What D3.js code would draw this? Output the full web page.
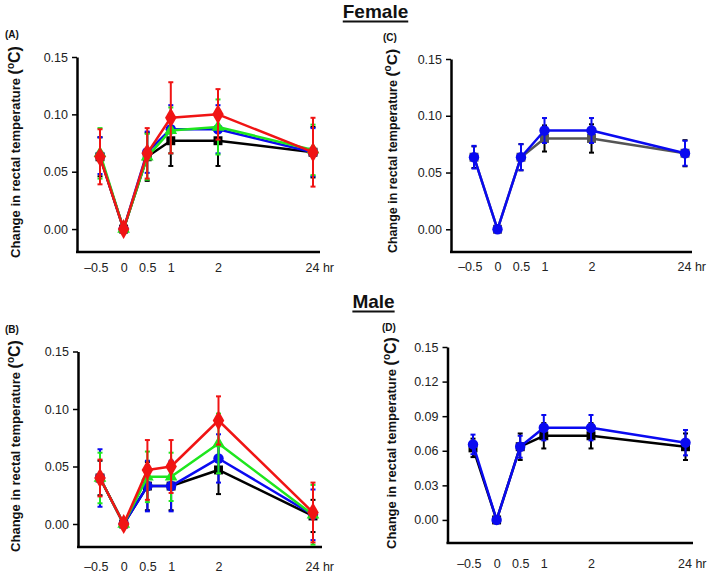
<!DOCTYPE html>
<html><head><meta charset="utf-8">
<script src="https://cdn.jsdelivr.net/npm/d3@7"></script>
<style>
html,body{margin:0;padding:0;background:#fff;}
svg{display:block;font-family:"Liberation Sans",Arial,sans-serif;}
</style></head>
<body><svg id="chart" width="709" height="574"></svg>
<script>
// ---------- data ----------
const times = [-0.5, 0, 0.5, 1, 2, 24];
const xTickLabels = ["\u20130.5", "0", "0.5", "1", "2", "24 hr"];
const yTicksMain = [0, 0.05, 0.10, 0.15];
const yTicksD = [0, 0.03, 0.06, 0.09, 0.12, 0.15];
const sectionTitles = ["Female", "Male"];
const panelTags = ["(A)", "(B)", "(C)", "(D)"];

// Panel A (female)
const aBlack = [0.063, 0, 0.063, 0.077, 0.077, 0.067];
const aBlackErr = [0.017, 0, 0.021, 0.022, 0.022, 0.022];
const aBlue = [0.064, 0, 0.067, 0.087, 0.087, 0.067];
const aBlueErr = [0.016, 0, 0.018, 0.021, 0.021, 0.021];
const aGreen = [0.066, 0, 0.063, 0.086, 0.089, 0.069];
const aGreenErr = [0.022, 0, 0.020, 0.020, 0.024, 0.022];
const aRed = [0.063, 0, 0.066, 0.097, 0.100, 0.067];
const aRedErr = [0.024, 0, 0.022, 0.031, 0.022, 0.030];

// Panel B (male)
const bBlack = [0.040, 0, 0.033, 0.033, 0.047, 0.007];
const bBlackErr = [0.015, 0, 0.021, 0.021, 0.021, 0.014];
const bBlue = [0.040, 0, 0.033, 0.033, 0.057, 0.008];
const bBlueErr = [0.025, 0, 0.022, 0.022, 0.021, 0.022];
const bGreen = [0.040, 0, 0.041, 0.041, 0.070, 0.008];
const bGreenErr = [0.022, 0, 0.022, 0.021, 0.026, 0.026];
const bRed = [0.040, 0, 0.047, 0.050, 0.090, 0.010];
const bRedErr = [0.016, 0, 0.026, 0.023, 0.021, 0.026];

// Panel C (female)
const cGray = [0.0635, 0, 0.0635, 0.080, 0.080, 0.067];
const cGrayErr = [0.0095, 0, 0.0115, 0.0115, 0.0125, 0.0115];
const cBlue = [0.0635, 0, 0.0635, 0.087, 0.087, 0.067];
const cBlueErr = [0.010, 0, 0.0115, 0.011, 0.011, 0.011];

// Panel D (male)
const dBlack = [0.0625, 0, 0.0635, 0.073, 0.073, 0.0635];
const dBlackErr = [0.008, 0, 0.0115, 0.011, 0.011, 0.0115];
const dBlue = [0.0655, 0, 0.0635, 0.080, 0.080, 0.067];
const dBlueErr = [0.0085, 0, 0.0095, 0.011, 0.011, 0.011];

// ---------- styles ----------
const C = {black:"#000000", blue:"#0a0af0", green:"#1ee61e", red:"#f01414", gray:"#555555"};
const sym = {
  square: {type: d3.symbolSquare, size: 80},
  circle: {type: d3.symbolCircle, size: 85},
  tri: {type: d3.symbolTriangle, size: 70},
  diamond: {type: d3.symbolDiamond, size: 115}
};

const panels = [
  {tag: panelTags[0], left: 77, top: 57, bottom: 252, right: 320, xpx: [100, 218, 313], labelBase: 272,
   titleX: 20, titleY: 152, titleSize: 13, tagPos: [5, 38], yTicks: yTicksMain,
   series: [
     {v: aBlack, e: aBlackErr, color: C.black, ecolor: C.black, s: sym.square},
     {v: aBlue, e: aBlueErr, color: C.blue, ecolor: C.blue, s: sym.circle},
     {v: aGreen, e: aGreenErr, color: C.green, ecolor: C.green, s: sym.tri},
     {v: aRed, e: aRedErr, color: C.red, ecolor: C.red, s: sym.diamond}]},
  {tag: panelTags[1], left: 78, top: 351.5, bottom: 547, right: 322, xpx: [100, 218.5, 313], labelBase: 571,
   titleX: 20, titleY: 446, titleSize: 13, tagPos: [5, 333], yTicks: yTicksMain,
   series: [
     {v: bBlack, e: bBlackErr, color: C.black, ecolor: C.black, s: sym.square},
     {v: bBlue, e: bBlueErr, color: C.blue, ecolor: C.blue, s: sym.circle},
     {v: bGreen, e: bGreenErr, color: C.green, ecolor: C.green, s: sym.tri},
     {v: bRed, e: bRedErr, color: C.red, ecolor: C.red, s: sym.diamond}]},
  {tag: panelTags[2], left: 451, top: 59, bottom: 252, right: 692, xpx: [474, 591.5, 685], labelBase: 271,
   titleX: 397, titleY: 151, titleSize: 12.5, tagPos: [383, 41], yTicks: yTicksMain,
   series: [
     {v: cGray, e: cGrayErr, color: C.gray, ecolor: C.black, s: sym.square},
     {v: cBlue, e: cBlueErr, color: C.blue, ecolor: C.blue, s: sym.circle}]},
  {tag: panelTags[3], left: 447.5, top: 347, bottom: 543, right: 693, xpx: [473, 591, 685.5], labelBase: 567.5,
   titleX: 396, titleY: 443, titleSize: 13, tagPos: [382, 331], yTicks: yTicksD,
   series: [
     {v: dBlack, e: dBlackErr, color: C.black, ecolor: C.black, s: sym.square},
     {v: dBlue, e: dBlueErr, color: C.blue, ecolor: C.blue, s: sym.circle}]}
];

const svg = d3.select("#chart");

// section titles
const titlePos = [{x: 375.5, y: 18}, {x: 373.5, y: 308}];
sectionTitles.forEach((t, i) => {
  const g = svg.append("g");
  const txt = g.append("text").attr("x", titlePos[i].x).attr("y", titlePos[i].y)
    .attr("text-anchor", "middle").attr("font-weight", "bold").attr("font-size", 19)
    .attr("fill", "#111").text(t);
  const w = txt.node().getComputedTextLength();
  g.append("line").attr("x1", titlePos[i].x - w / 2).attr("x2", titlePos[i].x + w / 2)
    .attr("y1", titlePos[i].y + 3.5).attr("y2", titlePos[i].y + 3.5)
    .attr("stroke", "#111").attr("stroke-width", 2);
});

panels.forEach(p => {
  const g = svg.append("g");
  const x = d3.scaleLinear().domain([-0.5, 2, 24]).range(p.xpx);
  const y = d3.scaleLinear().domain([-0.02, 0.15]).range([p.bottom, p.top]);

  // y axis
  const ya = g.append("g").attr("transform", `translate(${p.left},0)`)
    .call(d3.axisLeft(y).tickValues(p.yTicks).tickSize(5).tickSizeOuter(0).tickPadding(4)
      .tickFormat(d3.format(".2f")));
  ya.select(".domain").attr("stroke", "#000").attr("stroke-width", 2.5);
  ya.selectAll(".tick line").attr("stroke", "#000").attr("stroke-width", 1.5);
  ya.selectAll(".tick text").attr("font-size", 12.5).attr("fill", "#222")
    .attr("font-family", "Liberation Sans, Arial, sans-serif");

  // x axis line
  g.append("line").attr("x1", p.left - 1).attr("x2", p.right).attr("y1", p.bottom).attr("y2", p.bottom)
    .attr("stroke", "#000").attr("stroke-width", 2.5);
  // x axis labels
  const xa = g.append("g").attr("transform", `translate(0,${p.labelBase - 12})`)
    .call(d3.axisBottom(x).tickValues(times).tickSize(0).tickPadding(0)
      .tickFormat((d, i) => xTickLabels[i]));
  xa.select(".domain").remove();
  xa.selectAll(".tick text").attr("font-size", 12.5).attr("fill", "#222")
    .attr("font-family", "Liberation Sans, Arial, sans-serif")
    .attr("dy", 0).attr("y", 12)
    .each(function(d, i) {
      const t = d3.select(this);
      if (i === 0) t.attr("text-anchor", "end").attr("x", 8);
      if (i === times.length - 1) t.attr("text-anchor", "start").attr("x", -8);
    });

  // y title
  const tt = g.append("text").attr("transform", `translate(${p.titleX},${p.titleY}) rotate(-90)`)
    .attr("text-anchor", "middle").attr("font-weight", "bold").attr("font-size", p.titleSize).attr("fill", "#111");
  tt.append("tspan").text("Change in rectal temperature ");
  tt.append("tspan").attr("font-size", p.titleSize + 3).text("(");
  tt.append("tspan").attr("font-size", 10).attr("dy", -6).text("o");
  tt.append("tspan").attr("font-size", p.titleSize + 3).attr("dy", 6).text("C)");

  // panel tag
  g.append("text").attr("x", p.tagPos[0]).attr("y", p.tagPos[1]).attr("font-size", 10)
    .attr("font-weight", "bold").attr("fill", "#111").text(p.tag);

  const line = d3.line().x((d, i) => x(times[i])).y(d => y(d));

  p.series.forEach(s => {
    const sg = g.append("g");
    // error bars
    times.forEach((t, i) => {
      if (!s.e[i]) return;
      const cx = x(t), y1 = y(s.v[i] - s.e[i]), y2 = y(s.v[i] + s.e[i]);
      sg.append("line").attr("x1", cx).attr("x2", cx).attr("y1", y1).attr("y2", y2)
        .attr("stroke", s.ecolor).attr("stroke-width", 2);
      [y1, y2].forEach(yy => sg.append("line").attr("x1", cx - 2.5).attr("x2", cx + 2.5)
        .attr("y1", yy).attr("y2", yy).attr("stroke", s.ecolor).attr("stroke-width", 2));
    });
    sg.append("path").datum(s.v).attr("d", line).attr("fill", "none")
      .attr("stroke", s.color).attr("stroke-width", 2.5).attr("stroke-linejoin", "round");
    sg.selectAll("path.m").data(s.v).enter().append("path").attr("class", "m")
      .attr("transform", (d, i) => `translate(${x(times[i])},${y(d)})`)
      .attr("d", d3.symbol().type(s.s.type).size(s.s.size))
      .attr("fill", s.color);
  });
});
</script></body></html>
